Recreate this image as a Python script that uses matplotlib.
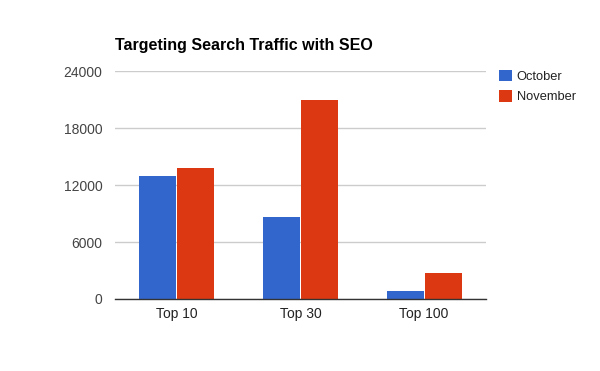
import matplotlib.pyplot as plt
import numpy as np

plt.rcParams['font.family'] = ['Liberation Sans', 'DejaVu Sans']

categories = ['Top 10', 'Top 30', 'Top 100']
october = [12950, 8650, 850]
november = [13800, 20950, 2750]
y_ticks = [0, 6000, 12000, 18000, 24000]

fig = plt.figure(figsize=(6, 3.71), dpi=100)
ax = fig.add_axes([115 / 600, 72 / 371, 371 / 600, 227.7 / 371])

x = np.arange(len(categories))
bar_width = 0.3
ax.bar(x - bar_width / 2 - 0.004, october, width=bar_width, color='#3366cc', label='October', zorder=3)
ax.bar(x + bar_width / 2 + 0.004, november, width=bar_width, color='#dc3912', label='November', zorder=3)

ax.set_xlim(-0.5, 2.5)
ax.set_ylim(0, 24000)
ax.set_yticks(y_ticks)
ax.set_yticklabels([str(t) for t in y_ticks])
ax.set_xticks(x)
ax.set_xticklabels(categories)
ax.tick_params(axis='both', length=0, labelsize=10, colors='#444444')
ax.tick_params(axis='y', pad=9)
ax.tick_params(axis='x', pad=6, labelcolor='#222222')

ax.grid(axis='y', color='#cccccc', linewidth=1, zorder=0)
for side in ['top', 'right', 'left']:
    ax.spines[side].set_visible(False)
ax.spines['bottom'].set_color('#333333')
ax.spines['bottom'].set_linewidth(1)
ax.spines['bottom'].set_zorder(4)

fig.text(115 / 600, 1 - 50 / 371, 'Targeting Search Traffic with SEO', fontsize=11.5,
         fontweight='bold', color='black', ha='left', va='baseline')

ax.legend(loc='upper left', bbox_to_anchor=(1.02, 1.03), frameon=False, fontsize=9.3,
          handlelength=1.0, handleheight=1.0, handletextpad=0.4, labelspacing=0.55,
          borderaxespad=0, labelcolor='#222222')

plt.savefig('out.png', dpi=100)
